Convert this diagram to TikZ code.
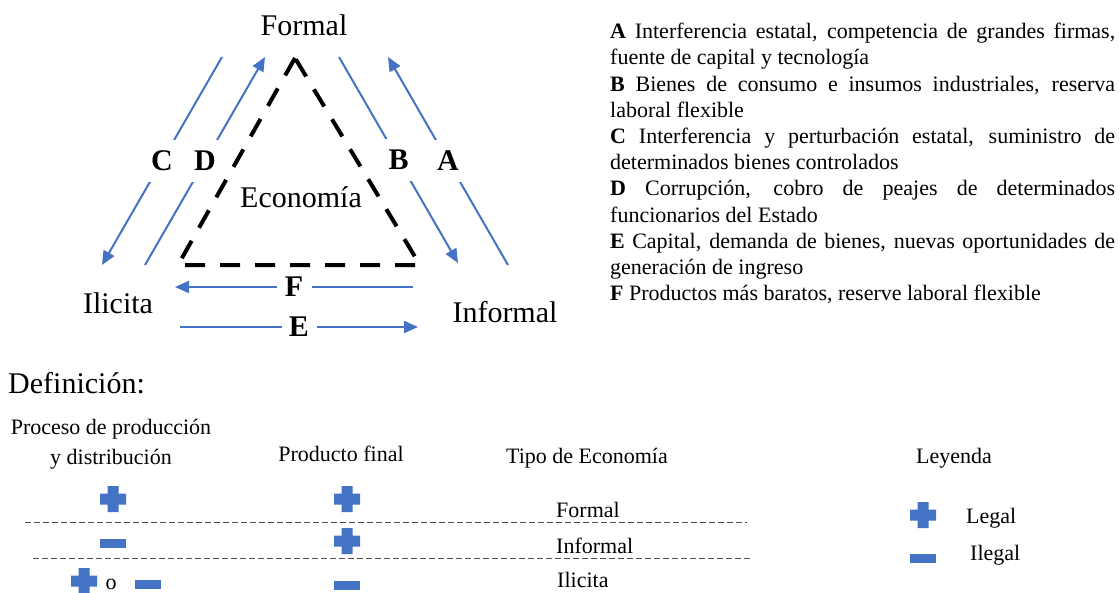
\documentclass[tikz,border=0pt]{standalone}
\usepackage{fontspec}
\setmainfont{Liberation Serif}
\usepackage{xcolor}
\usepackage{tikz}
\usetikzlibrary{arrows.meta, positioning, calc}
\definecolor{azul}{HTML}{4472C4}
\tikzstyle{vertex} = [font=\fontsize{30}{36}\selectfont, inner sep=0pt, anchor=base]
\tikzstyle{flow} = [draw=azul, line width=2pt, -{Triangle[length=14pt,width=12pt]}]
\tikzstyle{tag} = [font=\fontsize{30}{36}\selectfont\bfseries, fill=white, inner sep=0pt, minimum width=30pt, minimum height=42pt]
\tikzstyle{htag} = [tag, minimum width=35pt, minimum height=26pt]
\tikzstyle{borderline} = [line width=4pt, dash pattern=on 20pt off 15pt]
\tikzstyle{smalltext} = [font=\fontsize{22}{26.2}\selectfont, inner sep=0pt]
\tikzstyle{divider} = [draw=black!70, line width=1pt, dash pattern=on 6pt off 3pt]
\tikzset{
  plussign/.pic={\fill[azul] (-13,-5.5) rectangle (13,5.5) (-5.5,-13) rectangle (5.5,13);},
  minussign/.pic={\fill[azul] (-13,-4.5) rectangle (13,4.5);}
}

\begin{document}
\begin{tikzpicture}[x=1pt, y=-1pt]
    \useasboundingbox (0,0) rectangle (1119,592);

    % Vertices of the triangle
    \node (formal) [vertex] at (304,35) {Formal};
    \node (economia) [vertex] at (301,207) {Economía};
    \node (ilicita) [vertex] at (118,313) {Ilicita};
    \node (informal) [vertex] at (505,322) {Informal};

    % Dashed triangle
    \coordinate (top) at (295,58);
    \coordinate (left) at (178,265);
    \coordinate (right) at (420,265);
    \draw [borderline] (top) -- (left) -- (right) -- cycle;

    % Flows
    \coordinate (c1) at (222,57);  \coordinate (c2) at (102,265);
    \coordinate (d1) at (145,265); \coordinate (d2) at (265,57);
    \coordinate (b1) at (339,57);  \coordinate (b2) at (458,263);
    \coordinate (a1) at (508,265); \coordinate (a2) at (388,57);
    \coordinate (f1) at (413,287); \coordinate (f2) at (175,287);
    \coordinate (e1) at (180,327); \coordinate (e2) at (418,327);
    \draw [flow] (c1) -- node[tag] (labC) {C} (c2);
    \draw [flow] (d1) -- node[tag] (labD) {D} (d2);
    \draw [flow] (b1) -- node[tag] (labB) {B} (b2);
    \draw [flow] (a1) -- node[tag] (labA) {A} (a2);
    \draw [flow] (f1) -- node[htag] (labF) {F} (f2);
    \draw [flow] (e1) -- node[htag] (labE) {E} (e2);

    % Notes
    \node (notes) [smalltext, text width=505pt, align=justify, anchor=north west] at (610,23) {%
        \textbf{A} Interferencia estatal, competencia de grandes firmas,\linebreak fuente de capital y tecnología\\
        \textbf{B} Bienes de consumo e insumos industriales, reserva\linebreak laboral flexible\\
        \textbf{C} Interferencia y perturbación estatal, suministro de\linebreak determinados bienes controlados\\
        \textbf{D} Corrupción, cobro de peajes de determinados\linebreak funcionarios del Estado\\
        \textbf{E} Capital, demanda de bienes, nuevas oportunidades de\linebreak generación de ingreso\\
        \textbf{F} Productos más baratos, reserve laboral flexible};

    % Definition table
    \node (definicion) [vertex, anchor=base west] at (8,393) {Definición:};
    \node (proceso) [smalltext, font=\fontsize{22}{30}\selectfont, align=center, anchor=north] at (111,419) {Proceso de producción\\y distribución};
    \node (producto) [smalltext, anchor=base] at (341,461) {Producto final};
    \node (tipo) [smalltext, anchor=base] at (587,463) {Tipo de Economía};
    \node (rowformal) [smalltext, anchor=base west] at (556,517) {Formal};
    \node (rowinformal) [smalltext, anchor=base west] at (556,553) {Informal};
    \node (rowilicita) [smalltext, anchor=base west] at (557,587) {Ilicita};
    \node (o) [smalltext, text depth=0pt, anchor=base] at (111,589) {o};
    \draw [divider] (25,522) -- (747,522);
    \draw [divider] (33,558) -- (750,558);
    \pic at (113,499) {plussign};
    \pic at (347,499) {plussign};
    \pic at (113,543) {minussign};
    \pic at (347,541) {plussign};
    \pic at (84,581) {plussign};
    \pic at (148,584) {minussign};
    \pic at (347,585) {minussign};

    % Legend
    \node (leyenda) [smalltext, anchor=base] at (954,463) {Leyenda};
    \node (legal) [smalltext, anchor=base west] at (966,523) {Legal};
    \node (ilegal) [smalltext, anchor=base west] at (970,560) {Ilegal};
    \pic at (923,515) {plussign};
    \pic at (923,558) {minussign};
\end{tikzpicture}
\end{document}
